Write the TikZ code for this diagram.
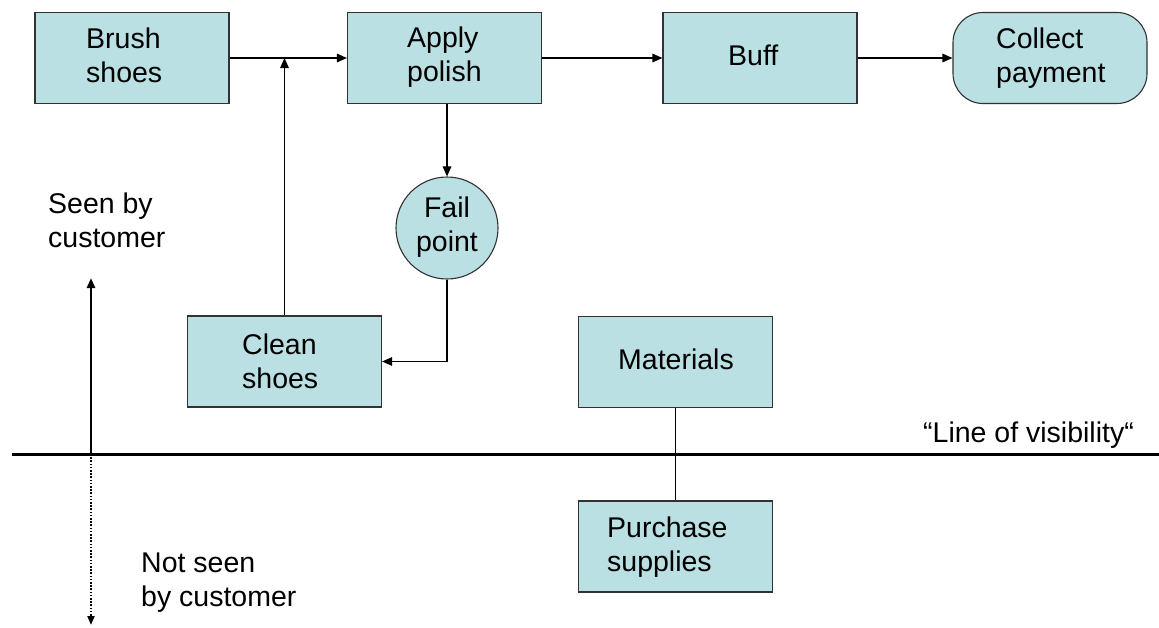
\documentclass[tikz,border=0pt]{standalone}
\usepackage{fontspec}
\setmainfont{Liberation Sans}
\usetikzlibrary{arrows.meta}
\definecolor{boxfill}{RGB}{186,224,227}
\definecolor{boxline}{RGB}{50,50,50}
\begin{document}
\begin{tikzpicture}[x=1pt,y=-1pt,
  font=\fontsize{28.5}{34}\selectfont,
  box/.style={draw=boxline, line width=1.1pt, fill=boxfill, rectangle, inner sep=0pt,
              minimum width=194pt, minimum height=91pt},
  lbl/.style={inner sep=0pt, anchor=west, align=left},
  flow/.style={line width=1.4pt, -{Triangle[length=10pt,width=8.5pt]}},
  ]
\useasboundingbox (0,0) rectangle (1159,627);

% process steps
\node[box] (brush) at (132,58) {};
\node[box] (apply) at (444.5,58) {};
\node[box] (buff) at (760,58) {};
\node[box, rounded corners=30pt] (collect) at (1050,58) {};
\node[box, circle, minimum size=102pt, align=center] (fail) at (447,228) {Fail\strut\\point\strut};
\node[box] (clean) at (284.5,361.5) {};
\node[box] (materials) at (675.5,362) {};
\node[box] (purchase) at (675.5,546.5) {};

% step captions
\node[lbl] (brushtxt) at (86,58.2) {Brush\strut\\shoes\strut};
\node[lbl] (applytxt) at (407,57.2) {Apply\strut\\polish\strut};
\node[lbl] (bufftxt) at (728,58.2) {Buff\strut};
\node[lbl] (collecttxt) at (996,58.2) {Collect\strut\\payment\strut};
\node[lbl] (cleantxt) at (242,364.2) {Clean\strut\\shoes\strut};
\node[lbl] (mattxt) at (618,362.2) {Materials\strut};
\node[lbl] (purchtxt) at (607,547.2) {Purchase\strut\\supplies\strut};

% side labels
\node[lbl] (seen) at (48,223.2) {Seen by\strut\\customer\strut};
\node[lbl] (notseen) at (141,582.2) {Not seen\strut\\by customer\strut};
\node[lbl] (lov) at (923,435.2) {“Line of visibility“\strut};

% line of visibility and the seen / not seen axis
\coordinate (lvL) at (12,454);
\coordinate (lvR) at (1159,454);
\draw[line width=3pt] (lvL) -- (lvR);
\coordinate (axis) at (91,454);
\coordinate (axtop) at (91,278);
\coordinate (axbot) at (91,625);
\draw[line width=2.5pt, -{Triangle[length=10pt,width=8pt]}] (axis) -- (axtop);
\draw[line width=2pt, dash pattern=on 1.6pt off 1.6pt, -{Triangle[length=9pt,width=7pt]}] (axis) -- (axbot);

% flow
\draw[flow] (brush.east) -- (apply.west);
\draw[flow] (clean.north) -- (clean.north |- brush.east);
\draw[flow] (apply.south -| fail.north) -- (fail.north);
\draw[flow] (fail.south) |- (clean.east);
\draw[flow] (apply.east) -- (buff.west);
\draw[flow] (buff.east) -- (collect.west);
\draw[line width=1pt] (materials.south) -- (purchase.north);
\end{tikzpicture}
\end{document}
